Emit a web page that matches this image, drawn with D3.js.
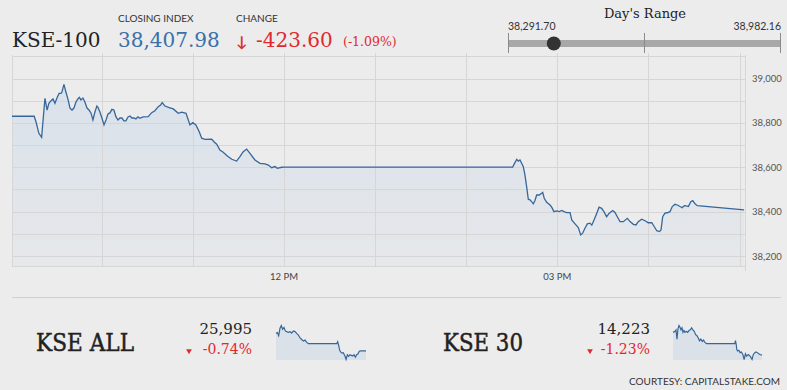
<!DOCTYPE html>
<html>
<head>
<meta charset="utf-8">
<script src="https://cdn.jsdelivr.net/npm/d3@7"></script>
<style>
  html, body { margin: 0; padding: 0; background: #ececec; }
  svg { display: block; }
  .serif { font-family: "DejaVu Serif", serif; }
  .sans { font-family: Lato, "Open Sans", sans-serif; }
</style>
</head>
<body>
<div id="chart"></div>
<script>
// KSE-100 intraday, minutes after 09:00 and index level
var kse100Minutes = [0.9, 15.5, 16.7, 18.6, 20.4, 22.6, 24.0, 25.2, 26.5, 27.9, 29.2, 30.5, 31.9, 33.2, 33.8, 35.1, 36.4, 37.7, 39.1, 40.4,
  41.7, 43.0, 44.3, 45.3, 46.3, 47.6, 48.9, 50.3, 51.6, 52.9, 54.2, 55.5, 56.8, 57.5, 58.8, 60.1, 61.5, 62.8, 64.1, 65.4,
  66.7, 68.0, 69.4, 70.7, 72.0, 73.3, 74.6, 75.9, 77.3, 78.6, 79.9, 81.2, 82.5, 83.8, 85.2, 87.1, 90.6, 92.9, 95.0, 97.2,
  98.8, 99.8, 101.6, 104.9, 107.1, 110.4, 112.6, 115.5, 117.0, 118.1, 119.9, 122.0, 124.2, 125.8, 128.0, 132.4, 133.9, 135.7, 137.8, 140.0,
  142.7, 145.6, 148.8, 151.0, 153.2, 155.4, 157.6, 160.9, 164.2, 167.5, 169.7, 171.9, 174.1, 175.6, 178.5, 180.0, 330.6,
  332.1, 333.3, 334.3, 335.4, 336.5, 337.6, 338.7, 339.8, 340.9, 342.0, 343.1, 344.2, 345.3, 346.4, 348.1, 349.7, 350.4, 351.4, 353.0,
  355.2, 356.3, 357.8, 359.6, 361.3, 362.9, 364.4, 366.2, 368.4, 369.5, 371.7, 373.8, 375.4, 376.7, 378.2, 379.8, 381.5, 382.7, 384.4,
  386.0, 387.5, 389.2, 390.7, 392.5, 394.2, 396.5, 398.0, 399.5, 401.3, 403.5, 406.1, 407.9, 410.1, 411.8, 413.3, 415.6, 417.8, 419.9,
  422.2, 423.9, 425.5, 427.2, 428.3, 429.4, 430.9, 432.4, 434.2, 435.7, 437.5, 439.0, 440.8, 442.3, 443.6, 444.8, 446.3, 447.9, 449.2,
  450.7, 452.2, 483.0];
var kse100Values = [38830, 38830, 38805, 38753, 38735, 38911, 38858, 38888, 38899, 38908, 38888, 38912, 38933, 38933, 38939, 38974, 38939, 38908, 38866, 38858,
  38867, 38894, 38908, 38915, 38903, 38912, 38894, 38867, 38858, 38845, 38813, 38849, 38876, 38870, 38849, 38822, 38791, 38813, 38840, 38845,
  38861, 38858, 38827, 38813, 38822, 38822, 38809, 38809, 38827, 38831, 38822, 38822, 38818, 38827, 38821, 38827, 38828, 38846, 38855, 38873,
  38881, 38891, 38876, 38868, 38863, 38843, 38848, 38843, 38813, 38791, 38801, 38791, 38760, 38731, 38726, 38727, 38715, 38704, 38678, 38668,
  38651, 38636, 38628, 38648, 38670, 38682, 38663, 38633, 38618, 38615, 38610, 38598, 38603, 38595, 38600, 38601, 38601,
  38621, 38636, 38628, 38633, 38618, 38603, 38565, 38513, 38456, 38453, 38445, 38435, 38450, 38475, 38475, 38483, 38487, 38460, 38442,
  38430, 38420, 38400, 38403, 38400, 38405, 38400, 38396, 38396, 38363, 38345, 38328, 38295, 38303, 38325, 38345, 38348, 38339, 38366,
  38393, 38420, 38415, 38400, 38377, 38393, 38405, 38396, 38377, 38355, 38355, 38370, 38355, 38343, 38340, 38355, 38366, 38359, 38350,
  38350, 38332, 38314, 38310, 38318, 38377, 38393, 38395, 38400, 38423, 38433, 38430, 38423, 38418, 38427, 38426, 38423, 38445, 38450,
  38435, 38427, 38408];

var kseAllMinutes = [0, 7.2, 14.3, 21.5, 28.6, 35.8, 42.9, 50.1, 57.2, 66.2, 75.1, 84.1, 93.0, 102, 111, 120, 129, 138, 147, 156, 165, 174,
  326, 331, 336, 342, 347, 354, 361, 370, 376, 383, 390, 397, 404, 411, 419, 426, 433, 440, 447, 454, 469, 483];
var kseAllValues = [26102, 26107, 26088, 26133, 26150, 26127, 26138, 26117, 26113, 26109, 26113, 26104, 26117, 26113, 26102, 26092, 26075, 26065, 26055, 26061, 26047, 26040,
  26040, 26051, 26030, 25999, 25989, 25982, 25984, 25964, 25943, 25972, 25962, 25972, 25968, 25964, 25972, 25957, 25972, 25978, 25993, 25995, 25995, 25995];

var kse30Minutes = [0, 10.8, 16.2, 21.6, 27.0, 32.5, 37.9, 43.3, 48.7, 54.1, 59.5, 64.9, 72.1, 79.3, 86.5, 93.7, 101, 108, 115, 123, 130, 137, 144, 151, 159, 166, 173, 182,
  335, 339, 343, 346, 350, 357, 364, 371, 379, 386, 393, 400, 408, 415, 422, 429, 436, 444, 451, 458, 465, 472, 483];
var kse30Values = [14359, 14365, 14374, 14319, 14380, 14400, 14390, 14374, 14386, 14359, 14370, 14359, 14365, 14359, 14370, 14374, 14386, 14374, 14365, 14345, 14339, 14325, 14309, 14319, 14305, 14313, 14299, 14292,
  14292, 14309, 14288, 14258, 14248, 14252, 14238, 14242, 14227, 14197, 14232, 14217, 14227, 14221, 14211, 14197, 14227, 14238, 14242, 14238, 14232, 14227, 14223];

var yTicks = [38200, 38400, 38600, 38800, 39000];
var xTickLabels = ["12 PM", "03 PM"];
var dayLow = 38291.70, dayHigh = 38982.16, closeValue = 38407.98;

var W = 787, H = 390;
var base = new Date(2019, 0, 4, 9, 0);
function toDate(m) { return new Date(base.getTime() + m * 60000); }

var svg = d3.select("#chart").append("svg")
  .attr("width", W).attr("height", H);

var red = "#e2282f", blue = "#3a70aa", lineCol = "#36679b";

// header
svg.append("text").attr("class", "serif").attr("x", 12).attr("y", 47)
  .attr("font-size", 20).attr("fill", "#222").text("KSE-100");
svg.append("text").attr("class", "sans").attr("x", 118).attr("y", 22)
  .attr("font-size", 10).attr("fill", "#333").text("CLOSING INDEX");
svg.append("text").attr("class", "serif").attr("x", 118).attr("y", 47)
  .attr("font-size", 20).attr("fill", blue).text(d3.format(",.2f")(closeValue));
svg.append("text").attr("class", "sans").attr("x", 236).attr("y", 22)
  .attr("font-size", 10).attr("fill", "#333").text("CHANGE");
svg.append("text").attr("class", "sans").attr("x", 236).attr("y", 47)
  .attr("font-size", 15).attr("font-weight", "bold").attr("fill", red).text("↓");
svg.append("text").attr("class", "serif").attr("x", 256).attr("y", 47)
  .attr("font-size", 20).attr("fill", red).text("-423.60");
svg.append("text").attr("class", "serif").attr("x", 343).attr("y", 46)
  .attr("font-size", 12.5).attr("fill", red).text("(-1.09%)");

// day's range
var rx = d3.scaleLinear().domain([dayLow, dayHigh]).range([508, 780]);
svg.append("text").attr("class", "serif").attr("x", 645).attr("y", 18)
  .attr("text-anchor", "middle").attr("font-size", 13).attr("fill", "#222").text("Day's Range");
svg.append("text").attr("class", "sans").attr("x", 508).attr("y", 30)
  .attr("font-size", 10.5).attr("fill", "#333").text(d3.format(",.2f")(dayLow));
svg.append("text").attr("class", "sans").attr("x", 781).attr("y", 30).attr("text-anchor", "end")
  .attr("font-size", 10.5).attr("fill", "#333").text(d3.format(",.2f")(dayHigh));
svg.append("rect").attr("x", rx(dayLow)).attr("y", 40).attr("width", rx(dayHigh) - rx(dayLow)).attr("height", 7)
  .attr("fill", "#a8a8a8");
svg.selectAll(".rtick").data([dayLow, (dayLow + dayHigh) / 2, dayHigh]).enter().append("line")
  .attr("x1", d => rx(d) + 0.5).attr("x2", d => rx(d) + 0.5).attr("y1", 33).attr("y2", 53)
  .attr("stroke", "#8a8a8a");
svg.append("circle").attr("cx", rx(closeValue)).attr("cy", 43.5).attr("r", 7).attr("fill", "#333");

// main chart
var x = d3.scaleTime().domain([toDate(0.9), toDate(483.6)]).range([12, 745]);
var y = d3.scaleLinear().domain([38155, 39106]).range([266, 55]);
var main = kse100Minutes.map((m, i) => ({ t: toDate(m), v: kse100Values[i] }));

var defs = svg.append("defs");
var grad = defs.append("linearGradient").attr("id", "fillGrad").attr("x1", 0).attr("x2", 0).attr("y1", 0).attr("y2", 1);
grad.append("stop").attr("offset", "0%").attr("stop-color", "#d9e1ea");
grad.append("stop").attr("offset", "100%").attr("stop-color", "#e6e8ea");

var g = svg.append("g");
g.append("path").datum(main)
  .attr("fill", "url(#fillGrad)")
  .attr("d", d3.area().x(d => x(d.t)).y0(266).y1(d => y(d.v)));

// grid
var hGrid = d3.range(38200, 39101, 100);
g.selectAll(".hg").data(hGrid).enter().append("line")
  .attr("x1", 12).attr("x2", 745)
  .attr("y1", d => Math.round(y(d)) + 0.5).attr("y2", d => Math.round(y(d)) + 0.5)
  .attr("stroke", "#d6d6d6");
g.append("line").attr("x1", 12).attr("x2", 745).attr("y1", 266.5).attr("y2", 266.5).attr("stroke", "#d6d6d6");
var hours = d3.range(10, 18).map(h => new Date(2019, 0, 4, h, 0));
g.selectAll(".vg").data(hours).enter().append("line")
  .attr("x1", d => Math.round(x(d)) + 0.5).attr("x2", d => Math.round(x(d)) + 0.5)
  .attr("y1", 53).attr("y2", 266)
  .attr("stroke", "#d6d6d6");
g.append("line").attr("x1", 12.5).attr("x2", 12.5).attr("y1", 55).attr("y2", 266).attr("stroke", "#d6d6d6");
g.append("line").attr("x1", 745.5).attr("x2", 745.5).attr("y1", 55).attr("y2", 271).attr("stroke", "#d6d6d6");

g.append("path").datum(main)
  .attr("fill", "none").attr("stroke", lineCol).attr("stroke-width", 1.3)
  .attr("d", d3.line().x(d => x(d.t)).y(d => y(d.v)));

// y axis labels
g.selectAll(".yl").data(yTicks).enter().append("text")
  .attr("class", "sans").attr("x", 752).attr("y", d => y(d) + 3.5)
  .attr("font-size", 9.5).attr("fill", "#555").text(d => d3.format(",")(d));

// x axis labels
var xLabelTimes = [new Date(2019, 0, 4, 12, 0), new Date(2019, 0, 4, 15, 0)];
g.selectAll(".xl").data(xLabelTimes).enter().append("text")
  .attr("class", "sans").attr("x", d => x(d)).attr("y", 280).attr("text-anchor", "middle")
  .attr("font-size", 9.5).attr("fill", "#444").text((d, i) => xTickLabels[i]);

// bottom section
svg.append("line").attr("x1", 12).attr("x2", 781).attr("y1", 297.5).attr("y2", 297.5).attr("stroke", "#cfcfcf");

function block(name, nameX, nameW, valText, chgText, valX, triX, mins, vals, sx0, sx1) {
  svg.append("text").attr("class", "serif").attr("x", nameX).attr("y", 351)
    .attr("font-size", 25).attr("fill", "#222")
    .attr("stroke", "#222").attr("stroke-width", 0.5)
    .attr("textLength", nameW).attr("lengthAdjust", "spacingAndGlyphs").text(name);
  svg.append("text").attr("class", "serif").attr("x", valX).attr("y", 334).attr("text-anchor", "end")
    .attr("font-size", 15).attr("fill", "#222").text(valText);
  svg.append("text").attr("class", "serif").attr("x", valX).attr("y", 354).attr("text-anchor", "end")
    .attr("font-size", 14).attr("fill", red).text(chgText);
  svg.append("path").attr("d", d3.symbol(d3.symbolTriangle, 14)()).attr("transform", "translate(" + triX + ",351) rotate(180)")
    .attr("fill", red);
  var sx = d3.scaleLinear().domain([0, 483]).range([sx0, sx1]);
  var sy = d3.scaleLinear().domain(d3.extent(vals)).range([359.5, 325.5]);
  var pts = mins.map((m, i) => [m, vals[i]]);
  svg.append("path").datum(pts).attr("fill", "#dbe1e8")
    .attr("d", d3.area().x(d => sx(d[0])).y0(360).y1(d => sy(d[1])));
  svg.append("path").datum(pts).attr("fill", "none").attr("stroke", lineCol).attr("stroke-width", 1.2)
    .attr("d", d3.line().x(d => sx(d[0])).y(d => sy(d[1])));
}
block("KSE ALL", 36, 98, "25,995", "-0.74%", 252, 189, kseAllMinutes, kseAllValues, 276, 366);
block("KSE 30", 443, 80, "14,223", "-1.23%", 650, 590, kse30Minutes, kse30Values, 673, 762);

svg.append("text").attr("class", "sans").attr("x", 780).attr("y", 385).attr("text-anchor", "end")
  .attr("font-size", 10).attr("fill", "#333").text("COURTESY: CAPITALSTAKE.COM");
</script>
</body>
</html>
